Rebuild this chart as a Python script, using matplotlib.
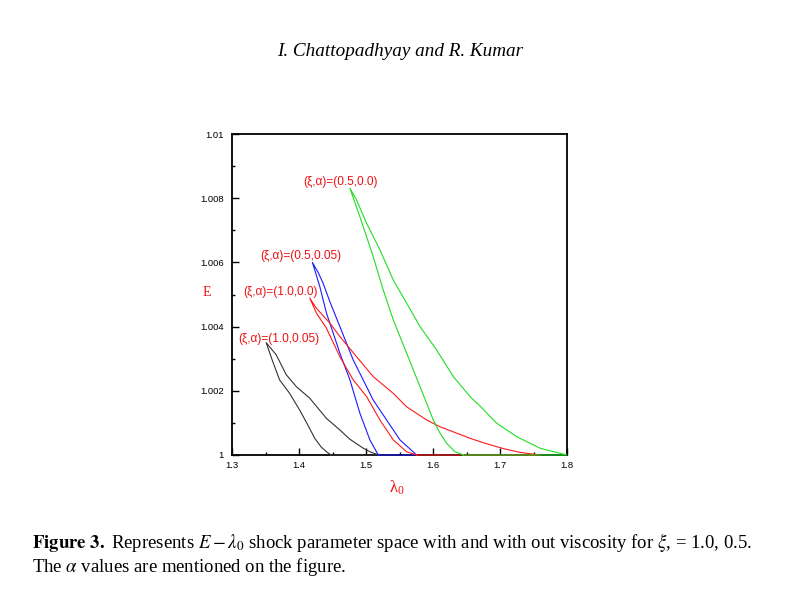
import matplotlib
matplotlib.use("Agg")
import matplotlib.pyplot as plt
from matplotlib.ticker import MultipleLocator
import numpy as np

plt.rcParams['mathtext.fontset'] = 'stix'

# --- datos ---
# cada curva: rama inferior (mas empinada) y rama superior, ambas desde la punta
negro_lam_a = [1.351, 1.361, 1.371, 1.386, 1.401, 1.412, 1.4235, 1.433, 1.441, 1.448]
negro_E_a = [1.0035, 1.0029, 1.00234, 1.00192, 1.0014, 1.00098, 1.00052, 1.00025, 1.0001, 1.0]
negro_lam_b = [1.351, 1.366, 1.381, 1.396, 1.416, 1.441, 1.461, 1.476, 1.496, 1.508, 1.520]
negro_E_b = [1.0035, 1.00312, 1.0025, 1.00213, 1.00177, 1.00114, 1.00078, 1.00049, 1.00021, 1.00008, 1.0]

azul_lam_a = [1.420, 1.431, 1.441, 1.451, 1.461, 1.476, 1.4909, 1.5058, 1.5183]
azul_E_a = [1.0060, 1.00525, 1.00442, 1.0038, 1.00317, 1.00234, 1.0013, 1.00047, 1.0]
azul_lam_b = [1.420, 1.429, 1.436, 1.446, 1.461, 1.4809, 1.4958, 1.5108, 1.5308, 1.5507, 1.5756]
azul_E_b = [1.0060, 1.00567, 1.00535, 1.00478, 1.004, 1.00296, 1.00234, 1.00171, 1.00109,
            1.00047, 1.0]

rojo_lam_a = [1.416, 1.426, 1.441, 1.461, 1.4809, 1.5009, 1.5208, 1.5407, 1.5607, 1.5756]
rojo_E_a = [1.00489, 1.00442, 1.00395, 1.00306, 1.00234, 1.00182, 1.00109, 1.00047, 1.0001, 1.0]
rojo_lam_b = [1.416, 1.426, 1.446, 1.461, 1.486, 1.5108, 1.5407, 1.5607, 1.5906, 1.6105, 1.6354,
              1.6553, 1.68, 1.705, 1.73, 1.760]
rojo_E_b = [1.00489, 1.00457, 1.00411, 1.00369, 1.00306, 1.00244, 1.00192, 1.0015, 1.00109,
            1.00088, 1.00068, 1.00052, 1.00035, 1.0002, 1.00008, 1.0]

verde_lam_a = [1.476, 1.4909, 1.5108, 1.5257, 1.5407, 1.5607, 1.5806, 1.6004, 1.6105, 1.6205,
               1.6329, 1.6453]
verde_E_a = [1.00831, 1.00742, 1.00618, 1.00514, 1.00421, 1.00317, 1.00213, 1.00109, 1.00068,
             1.00036, 1.0001, 1.0]
verde_lam_b = [1.476, 1.486, 1.5009, 1.5208, 1.5407, 1.5607, 1.5806, 1.6055, 1.6304, 1.6553,
               1.671, 1.695, 1.725, 1.760, 1.800]
verde_E_b = [1.00831, 1.00794, 1.00722, 1.00639, 1.00545, 1.00473, 1.004, 1.00327, 1.00244,
             1.00182, 1.00151, 1.00099, 1.00057, 1.00021, 1.0]

etiquetas = ["(ξ,α)=(1.0,0.05)", "(ξ,α)=(0.5,0.05)", "(ξ,α)=(1.0,0.0)", "(ξ,α)=(0.5,0.0)"]
etiq_x = [1.3698, 1.4027, 1.3728, 1.4625]
etiq_y = [1.00361, 1.0062, 1.00508, 1.0085]

xticks = [1.3, 1.4, 1.5, 1.6, 1.7, 1.8]
xtick_labels = ["1.3", "1.4", "1.5", "1.6", "1.7", "1.8"]
yticks = [1.0, 1.002, 1.004, 1.006, 1.008, 1.01]
ytick_labels = ["1", "1.002", "1.004", "1.006", "1.008", "1.01"]

curvas = [
    (negro_lam_a, negro_E_a, negro_lam_b, negro_E_b, '#333333'),
    (azul_lam_a, azul_E_a, azul_lam_b, azul_E_b, '#1a1aff'),
    (rojo_lam_a, rojo_E_a, rojo_lam_b, rojo_E_b, '#ff1a1a'),
    (verde_lam_a, verde_E_a, verde_lam_b, verde_E_b, '#22dd22'),
]

rojo_texto = '#ee1111'

fig = plt.figure(figsize=(8.01, 5.89), dpi=100)
ax = fig.add_axes([232 / 801, 134 / 589, 335 / 801, 321 / 589])

for la, ea, lb, eb, color in curvas:
    # lazo: rama inferior hacia arriba, rama superior hacia abajo, y vuelta por E=1
    lam = np.concatenate([la[::-1], lb[1:], [la[-1]]])
    E = np.concatenate([ea[::-1], eb[1:], [1.0]])
    ax.plot(lam, E, color=color, lw=0.8, clip_on=False, zorder=3)

for txt, x, y in zip(etiquetas, etiq_x, etiq_y):
    ax.text(x, y, txt, color=rojo_texto, fontsize=8.6, family='Liberation Sans',
            weight='medium', ha='center', va='center')

ax.set_xlim(1.3, 1.8)
ax.set_ylim(1.0, 1.01)
ax.set_xticks(xticks)
ax.set_xticklabels(xtick_labels, family='Liberation Sans')
ax.set_yticks(yticks)
ax.set_yticklabels(ytick_labels, family='Liberation Sans')
ax.xaxis.set_minor_locator(MultipleLocator(0.05))
ax.yaxis.set_minor_locator(MultipleLocator(0.001))
ax.tick_params(which='both', direction='in', top=False, right=False, width=1.0,
               labelsize=6.8)
ax.tick_params(which='major', length=5)
ax.tick_params(which='minor', length=2.5)
ax.tick_params(axis='y', pad=6)
ax.tick_params(axis='x', pad=4)
for lado in ax.spines.values():
    lado.set_linewidth(1.3)

fig.text(207 / 801, 1 - 292 / 589, "E", color=rojo_texto, fontsize=10,
         family='Liberation Serif', ha='center', va='center')
fig.text(397 / 801, 1 - 488 / 589, r"$\mathregular{λ_0}$", color=rojo_texto, fontsize=12,
         family='Liberation Serif', ha='center', va='center')

fig.text(400 / 801, 1 - 52 / 589, "I. Chattopadhyay and R. Kumar", fontsize=13.8,
         family='Liberation Serif', style='italic', ha='center', va='center')
fig.text(32 / 801, 1 - 542 / 589,
         r"$\mathbf{Figure\ 3.}$ Represents $E-\lambda_0$ shock parameter space with and with out "
         r"viscosity for $\xi$, = 1.0, 0.5.",
         fontsize=13.5, family='Liberation Serif', ha='left', va='center')
fig.text(32 / 801, 1 - 567 / 589, r"The $\alpha$ values are mentioned on the figure.",
         fontsize=13.5, family='Liberation Serif', ha='left', va='center')

fig.savefig("out.png", dpi=100)
